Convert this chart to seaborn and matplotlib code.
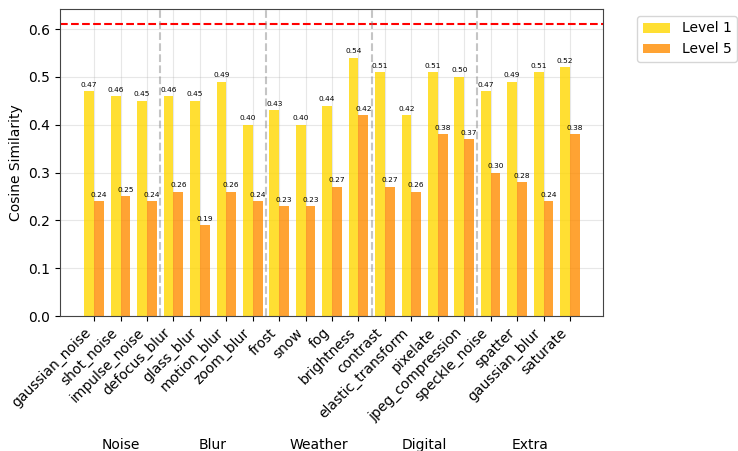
import matplotlib
matplotlib.use("Agg")
import matplotlib.pyplot as plt
import matplotlib.transforms as mtransforms
import seaborn as sns
import pandas as pd

corruptions = [
    "gaussian_noise", "shot_noise", "impulse_noise",
    "defocus_blur", "glass_blur", "motion_blur", "zoom_blur",
    "frost", "snow", "fog", "brightness",
    "contrast", "elastic_transform", "pixelate", "jpeg_compression",
    "speckle_noise", "spatter", "gaussian_blur", "saturate",
]
level1 = [0.47, 0.46, 0.45, 0.46, 0.45, 0.49, 0.40, 0.43, 0.40, 0.44,
          0.54, 0.51, 0.42, 0.51, 0.50, 0.47, 0.49, 0.51, 0.52]
level5 = [0.24, 0.25, 0.24, 0.26, 0.19, 0.26, 0.24, 0.23, 0.23, 0.27,
          0.42, 0.27, 0.26, 0.38, 0.37, 0.30, 0.28, 0.24, 0.38]
levels = ["Level 1", "Level 5"]
groups = ["Noise", "Blur", "Weather", "Digital", "Extra"]
group_sizes = [3, 4, 4, 4, 4]
reference = 0.61

df = pd.DataFrame({
    "corruption": corruptions * 2,
    "value": level1 + level5,
    "level": [levels[0]] * len(corruptions) + [levels[1]] * len(corruptions),
})

fig = plt.figure(figsize=(7.38, 4.51), dpi=100)
ax = fig.add_axes([60 / 738, 1 - 316 / 451, (603 - 60) / 738, (316 - 9) / 451])

sns.barplot(data=df, x="corruption", y="value", hue="level", order=corruptions,
            hue_order=levels, palette=["gold", "darkorange"], alpha=0.8,
            saturation=1, width=0.74, errorbar=None, ax=ax)

for container in ax.containers:
    ax.bar_label(container, fmt="%.2f", fontsize=5.3, padding=2.5)

ax.axhline(reference, color="red", linestyle="--", linewidth=1.5)

# separators between corruption families
start = 0
for size in group_sizes[:-1]:
    start += size
    ax.axvline(start - 0.5, color="gray", linestyle="--", linewidth=1.5, alpha=0.45)

# family names under the tick labels
trans = mtransforms.blended_transform_factory(ax.transData, ax.transAxes)
start = 0
for name, size in zip(groups, group_sizes):
    center = start + (size - 1) / 2
    ax.text(center, -0.42, name, transform=trans, ha="center", va="center", fontsize=10)
    start += size

ax.set_xlim(-1.29, 19.25)
ax.set_ylim(0, 0.642)
ax.set_xlabel("")
ax.set_ylabel("Cosine Similarity", fontsize=10)
ax.set_xticks(range(len(corruptions)))
ax.set_xticklabels(corruptions, rotation=45, ha="right")
ax.grid(True, alpha=0.3)
ax.set_axisbelow(True)
for spine in ax.spines.values():
    spine.set_color("#444444")

handles, labels = ax.get_legend_handles_labels()
ax.legend(handles, labels, loc="upper left", bbox_to_anchor=(1.05, 1), fontsize=10)

fig.savefig("out.png", dpi=100)
